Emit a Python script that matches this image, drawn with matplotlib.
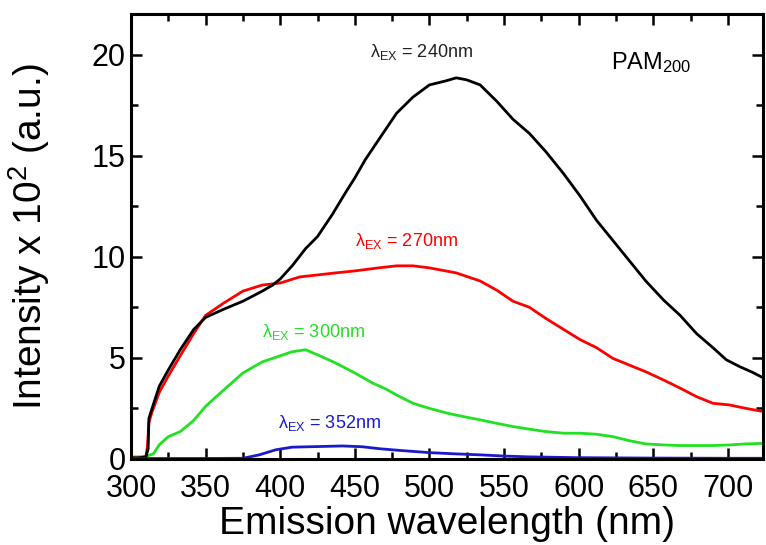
import matplotlib
matplotlib.use("Agg")
import matplotlib.pyplot as plt
from matplotlib.ticker import MultipleLocator

plt.rcParams["font.family"] = ["Liberation Sans", "DejaVu Sans"]
plt.rcParams["mathtext.fontset"] = "custom"
plt.rcParams["mathtext.rm"] = "Liberation Sans"
plt.rcParams["mathtext.it"] = "Liberation Sans"

# emission spectra (intensity in units of 10^2 a.u.)
wl_240 = [300, 305, 310, 311.5, 312, 315, 319, 325, 333, 342, 350, 362, 375, 388, 395,
          400, 408, 417, 425, 435, 444, 450, 457, 467, 478, 489, 500, 511, 518, 525,
          534, 545, 556, 567, 578, 590, 601, 612, 623, 634, 645, 657, 668, 679, 690,
          699, 708, 716, 724]
int_240 = [0.05, 0.05, 0.1, 0.5, 2.0, 2.7, 3.6, 4.4, 5.4, 6.4, 7.0, 7.4, 7.8, 8.3, 8.6,
           8.9, 9.55, 10.4, 11.0, 12.1, 13.2, 13.9, 14.8, 15.9, 17.1, 17.9, 18.5, 18.7, 18.85, 18.75,
           18.5, 17.7, 16.8, 16.1, 15.2, 14.1, 13.0, 11.8, 10.8, 9.8, 8.8, 7.85, 7.1, 6.2, 5.5,
           4.9, 4.56, 4.3, 4.0]

wl_270 = [300, 305, 310, 311, 312, 314, 319, 325, 333, 342, 350, 362, 375, 388, 400,
          413, 425, 437, 450, 466, 478, 489, 500, 518, 534, 545, 556, 567, 578, 590,
          601, 612, 623, 634, 645, 657, 668, 679, 690, 701, 712, 724]
int_270 = [0.05, 0.05, 0.1, 0.6, 1.8, 2.3, 3.3, 4.1, 5.1, 6.2, 7.1, 7.7, 8.3, 8.6, 8.7,
           9.0, 9.1, 9.2, 9.3, 9.45, 9.55, 9.55, 9.45, 9.2, 8.8, 8.35, 7.8, 7.5, 6.95, 6.4,
           5.9, 5.5, 4.97, 4.64, 4.31, 3.9, 3.5, 3.08, 2.75, 2.67, 2.5, 2.34]

wl_300 = [300, 305, 310, 315, 319, 325, 333, 342, 350, 362, 375, 388, 400, 408, 417,
          425, 437, 450, 462, 471, 478, 489, 500, 512, 523, 534, 545, 556, 567, 578,
          590, 601, 612, 623, 634, 645, 657, 668, 679, 690, 701, 712, 724]
int_300 = [0.1, 0.1, 0.12, 0.25, 0.7, 1.1, 1.35, 1.9, 2.6, 3.4, 4.25, 4.8, 5.1, 5.3, 5.4,
           5.15, 4.75, 4.25, 3.75, 3.45, 3.16, 2.75, 2.5, 2.26, 2.09, 1.93, 1.76, 1.6, 1.47, 1.35,
           1.27, 1.27, 1.22, 1.1, 0.9, 0.74, 0.69, 0.66, 0.66, 0.66, 0.69, 0.74, 0.77]

wl_352 = [300, 350, 375, 386, 397, 408, 425, 442, 455, 467, 480, 500, 517, 534, 550,
          567, 600, 650, 700, 724]
int_352 = [0.02, 0.02, 0.03, 0.2, 0.45, 0.58, 0.61, 0.64, 0.6, 0.5, 0.42, 0.31, 0.25, 0.2, 0.14,
           0.1, 0.06, 0.04, 0.03, 0.03]

fig = plt.figure(figsize=(7.66, 5.45), dpi=100)
ax = fig.add_axes([0.171, 0.158, 0.825, 0.816])

ax.plot(wl_300, int_300, color="#22e022", lw=2.0)
ax.plot(wl_270, int_270, color="#ff0000", lw=2.0)
ax.plot(wl_240, int_240, color="black", lw=2.0)
ax.plot(wl_352, int_352, color="#1a1acc", lw=2.0)

ax.text(460, 19.87, r"λ$_{\mathrm{EX}}$ = 240nm", color="#222222", fontsize=13, va="baseline")
ax.text(450, 10.53, r"λ$_{\mathrm{EX}}$ = 270nm", color="#ff0000", fontsize=13, va="baseline")
ax.text(387.6, 6.04, r"λ$_{\mathrm{EX}}$ = 300nm", color="#22e022", fontsize=13, va="baseline")
ax.text(398.7, 1.51, r"λ$_{\mathrm{EX}}$ = 352nm", color="#1a1acc", fontsize=13, va="baseline")
ax.text(622, 19.26, r"PAM$_{200}$", color="black", fontsize=17, va="baseline")

ax.set_xlim(300, 723.5)
ax.set_ylim(0, 22)
ax.xaxis.set_major_locator(MultipleLocator(50))
ax.xaxis.set_minor_locator(MultipleLocator(25))
ax.yaxis.set_major_locator(MultipleLocator(5))
ax.yaxis.set_minor_locator(MultipleLocator(2.5))
ax.tick_params(which="both", direction="in", top=True, right=True, width=1.8, labelsize=22)
ax.tick_params(which="major", length=8)
ax.tick_params(which="minor", length=5)
ax.tick_params(axis="x", which="major", pad=11)
ax.tick_params(axis="y", which="major", pad=4)
for s in ax.spines.values():
    s.set_linewidth(2.2)

ax.set_xlabel("Emission wavelength (nm)", fontsize=28, labelpad=1)
ax.set_ylabel("Intensity x 10$^2$ (a.u.)", fontsize=28)
ax.yaxis.set_label_coords(-0.125, 0.5)

fig.savefig("out.png", dpi=100)
